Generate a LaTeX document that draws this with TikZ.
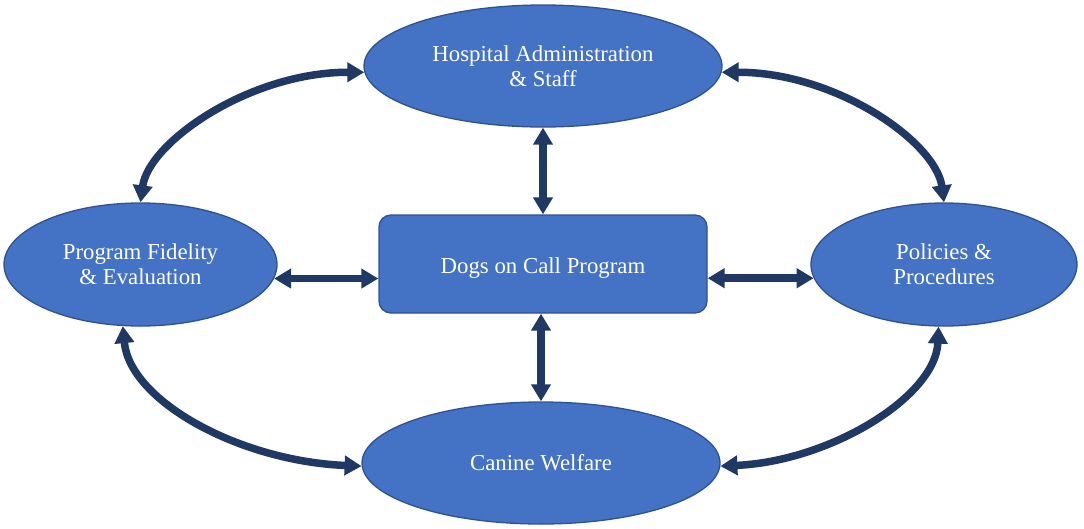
\documentclass[tikz,border=0pt]{standalone}
\usepackage{fontspec}
\setmainfont{Liberation Serif}
\usetikzlibrary{shapes.geometric,arrows.meta}
\definecolor{nodefill}{HTML}{4472C4}
\definecolor{nodeline}{HTML}{2F528F}
\definecolor{arrowcol}{HTML}{203864}
\tikzset{
  bubble/.style={ellipse, draw=nodeline, fill=nodefill, line width=1.3pt, inner sep=0pt,
    text=white, align=center, font=\fontsize{22.8}{25}\selectfont},
  core/.style={rectangle, rounded corners=12pt, draw=nodeline, fill=nodefill, line width=1.3pt,
    inner sep=0pt, text=white, align=center, font=\fontsize{22.8}{25}\selectfont,
    minimum width=328pt, minimum height=98pt},
  link/.style={draw=arrowcol, line width=7.5pt,
    {Triangle[length=17pt,width=19pt]}-{Triangle[length=17pt,width=19pt]}}
}
\begin{document}
\begin{tikzpicture}[x=1pt,y=-1pt]
\useasboundingbox[fill=white] (0,0) rectangle (1084,528);
\node[bubble, minimum width=358pt, minimum height=122pt] (T) at (543,66) {Hospital Administration\\\& Staff};
\node[bubble, minimum width=273pt, minimum height=123pt] (L) at (140.5,264.5) {Program Fidelity\\\& Evaluation};
\node[bubble, minimum width=266pt, minimum height=123pt] (R) at (944,264.5) {Policies \&\\Procedures};
\node[bubble, minimum width=358pt, minimum height=122pt] (B) at (541,463) {Canine Welfare};
\node[core] (C) at (543,264) {\raisebox{-4pt}[\height][\depth]{Dogs on Call Program}};

\draw[link] (T.south) -- (C.north);
\draw[link] (B.north |- C.south) -- (B.north);
\draw[link] (L.-6) -- (L.-6 -| C.west);
\draw[link] (R.186 -| C.east) -- (R.186);

\draw[link] (L.north) .. controls +(8,-60) and +(-115,0) .. (T.182);
\draw[link] (T.-2) .. controls +(115,0) and +(-8,-60) .. (R.north);
\draw[link] (L.-106) .. controls +(7,75) and +(-122,-5) .. (B.181);
\draw[link] (B.-1) .. controls +(110,-5) and +(-3,70) .. (R.-95);
\end{tikzpicture}
\end{document}
